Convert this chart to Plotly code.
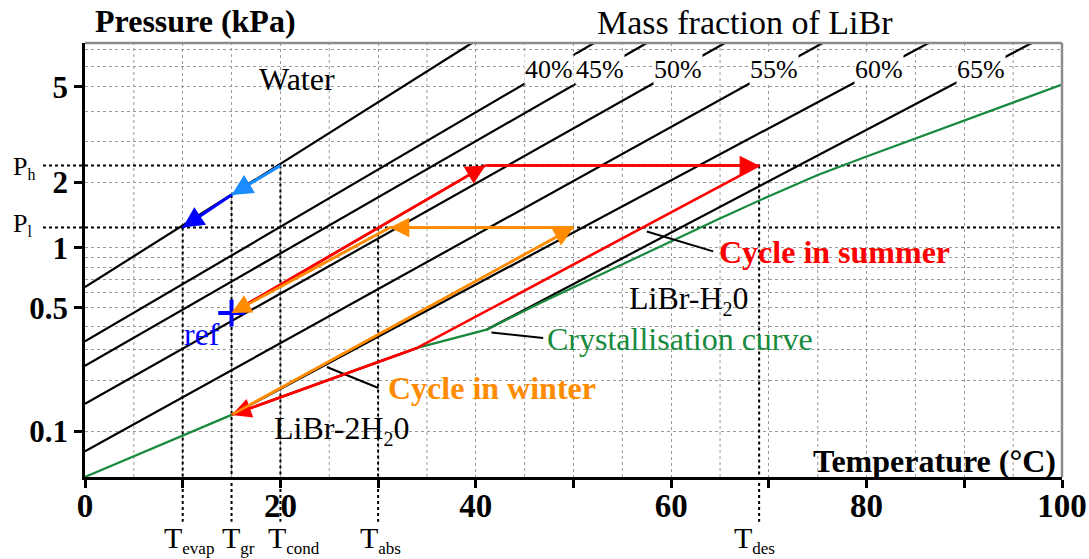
import numpy as np
import plotly.graph_objects as go

# ---------------- data (temperature in degC, pressure in kPa) ----------------
water_T = [0.0, 39.6]
water_P = [0.640, 7.375]

conc_labels = ["40%", "45%", "50%", "55%", "60%", "65%"]
iso_T0 = [0.0, 0.0, 0.0, 0.0, 15.0, 41.1]
iso_P0 = [0.332, 0.2436, 0.1469, 0.0749, 0.126, 0.384]
iso_T1 = [52.1, 57.5, 65.5, 75.5, 86.35, 96.9]
iso_P1 = [7.375, 7.375, 7.375, 7.375, 7.375, 7.375]

cryst_T = [0, 15, 34, 37.4, 41.1, 46.6, 55, 64.7, 70, 75, 80, 90, 100]
cryst_P = [0.0511, 0.126, 0.306, 0.340, 0.384, 0.530, 0.830, 1.355, 1.735, 2.152, 2.591, 3.665, 5.109]

P_h, P_l = 2.37, 1.245
T_evap, T_gr, T_cond, T_abs, T_des = 10, 15, 20, 30, 69
ref_T, ref_P = 15, 0.470

summer_T = [15, 41, 69, 34, 15]
summer_P = [0.470, 2.37, 2.37, 0.306, 0.126]
summer_heads = [1, 2, 4]           # indices of points that carry an arrow head

winter_T = [15, 50, 31.2, 15]
winter_P = [0.126, 1.245, 1.245, 0.470]
winter_heads = [1, 2, 3]

blue_T = [20, 15, 10]
blue_P = [2.37, 1.757, 1.245]

# pointer lines from labels to curves
ptr_summer_T, ptr_summer_P = [57.5, 64.3], [1.194, 0.960]
ptr_cryst_T, ptr_cryst_P = [41.6, 46.9], [0.371, 0.346]
ptr_winter_T, ptr_winter_P = [24.75, 30.04], [0.2395, 0.1816]

tick_P = [0.1, 0.5, 1, 2, 5]
tick_text = ["0.1", "0.5", "1", "2", "5"]
grid_P = [0.1, 0.2, 0.3, 0.4, 0.5, 0.6, 0.7, 0.8, 0.9, 1, 2, 3, 4, 5, 6, 7]
x_major = [0, 20, 40, 60, 80, 100]
x_major_text = ["0", "20", "40", "60", "80", "100"]
x_fine_grid = [5, 15, 25, 35, 45, 55, 65, 75, 85, 95]

# ---------------- pressure scale: saturation temperature of water ----------------
def ts(p):
    L = np.log(np.asarray(p, dtype=float) / 0.61094)
    return 243.04 * L / (17.625 - L)

YMIN, YMAX = -30, 40
FONT = "Liberation Serif, Times New Roman, serif"
RED, ORANGE, GREEN = "#ff0000", "#ff8c00", "#178a3e"
LBLUE, DBLUE = "#1a8cff", "#0000ff"

fig = go.Figure()

# water + isosteres
fig.add_trace(go.Scatter(x=water_T, y=ts(water_P), mode="lines",
                         line=dict(color="black", width=2.2), hoverinfo="skip"))
for i in range(len(conc_labels)):
    fig.add_trace(go.Scatter(x=[iso_T0[i], iso_T1[i]], y=ts([iso_P0[i], iso_P1[i]]),
                             mode="lines", line=dict(color="black", width=2.2), hoverinfo="skip"))

# crystallisation curve
fig.add_trace(go.Scatter(x=cryst_T, y=ts(cryst_P), mode="lines",
                         line=dict(color=GREEN, width=2.2), hoverinfo="skip"))

# cycles
fig.add_trace(go.Scatter(x=summer_T, y=ts(summer_P), mode="lines",
                         line=dict(color=RED, width=2.6), hoverinfo="skip"))
fig.add_trace(go.Scatter(x=winter_T, y=ts(winter_P), mode="lines",
                         line=dict(color=ORANGE, width=2.6), hoverinfo="skip"))
fig.add_trace(go.Scatter(x=blue_T[:2], y=ts(blue_P[:2]), mode="lines",
                         line=dict(color=LBLUE, width=2.8), hoverinfo="skip"))
fig.add_trace(go.Scatter(x=blue_T[1:], y=ts(blue_P[1:]), mode="lines",
                         line=dict(color=DBLUE, width=2.8), hoverinfo="skip"))

# pointers
for tt, pp in [(ptr_summer_T, ptr_summer_P), (ptr_cryst_T, ptr_cryst_P), (ptr_winter_T, ptr_winter_P)]:
    fig.add_trace(go.Scatter(x=tt, y=ts(pp), mode="lines",
                             line=dict(color="black", width=2), hoverinfo="skip"))

# reference point
fig.add_trace(go.Scatter(x=[ref_T], y=ts([ref_P]), mode="markers",
                         marker=dict(symbol="cross-thin", size=19,
                                     line=dict(color=DBLUE, width=4)), hoverinfo="skip"))

annotations = []

def arrow(t0, p0, t1, p1, color, width=2.6):
    annotations.append(dict(x=t1, y=float(ts(p1)), ax=t0, ay=float(ts(p0)),
                            xref="x", yref="y", axref="x", ayref="y", text="",
                            showarrow=True, arrowhead=2, arrowsize=1.5,
                            arrowwidth=width, arrowcolor=color, standoff=0))

for h in summer_heads:
    arrow(summer_T[h - 1], summer_P[h - 1], summer_T[h], summer_P[h], RED)
for h in winter_heads:
    arrow(winter_T[h - 1], winter_P[h - 1], winter_T[h], winter_P[h], ORANGE)
arrow(blue_T[0], blue_P[0], blue_T[1], blue_P[1], LBLUE, 2.8)
arrow(blue_T[1], blue_P[1], blue_T[2], blue_P[2], DBLUE, 2.8)

# concentration labels placed on their lines
TS_LAB = 35.7
for i, lab in enumerate(conc_labels):
    y0, y1 = float(ts(iso_P0[i])), float(ts(iso_P1[i]))
    tl = float(np.interp(TS_LAB, [y0, y1], [iso_T0[i], iso_T1[i]]))
    annotations.append(dict(x=tl, y=TS_LAB, xref="x", yref="y", text=lab, showarrow=False,
                            font=dict(family=FONT, size=26, color="black"),
                            bgcolor="white", borderpad=0, xanchor="center", yanchor="middle"))

# text labels (positions in plot pixels)
def px(xp):
    return (xp - 85) / 977.0

def py(yp):
    return (477.0 - yp) / 434.0

def label(text, x, y, size=32, color="black", xanchor="left"):
    annotations.append(dict(x=px(x), y=py(y), xref="paper", yref="paper", text=text,
                            showarrow=False, font=dict(family=FONT, size=size, color=color),
                            xanchor=xanchor, yanchor="middle"))

SUB = "<sub><span style='font-size:%dpx'>%s</span></sub>"

label("<b>Pressure (kPa)</b>", 93, 21)
label("Mass fraction of LiBr", 745, 22, size=34, xanchor="center")
label("Water", 257, 79)
label("<b>Cycle in summer</b>", 717, 252, color=RED)
label("LiBr-H" + SUB % (20, "2") + "0", 627, 300)
label("Crystallisation curve", 545, 339, color=GREEN)
label("<b>Cycle in winter</b>", 386, 388, color=ORANGE)
label("LiBr-2H" + SUB % (20, "2") + "0", 272, 430)
label("ref", 182, 334, color=DBLUE)
label("<b>Temperature (°C)</b>", 1058, 461, xanchor="right")
label("P" + SUB % (16, "h"), 11, 167, size=26)
label("P" + SUB % (16, "l"), 11, 225, size=26)

T_names = [("evap", T_evap, -21), ("gr", T_gr, -12),
           ("cond", T_cond, -14), ("abs", T_abs, -20),
           ("des", T_des, -27)]
for sub, tv, sh in T_names:
    annotations.append(dict(x=tv, y=py(539), xref="x", yref="paper",
                            text="T" + SUB % (17, sub), showarrow=False,
                            font=dict(family=FONT, size=30, color="black"),
                            xanchor="left", yanchor="middle", xshift=sh))

shapes = []
for gx in x_fine_grid:
    shapes.append(dict(type="line", xref="x", yref="paper", x0=gx, x1=gx, y0=0, y1=1,
                       line=dict(color="#9a9a9a", width=1, dash="dot"), layer="below"))
dot = dict(color="black", width=2, dash="dot")
for pv in [P_h, P_l]:
    shapes.append(dict(type="line", xref="paper", yref="y", x0=-0.043, x1=1,
                       y0=float(ts(pv)), y1=float(ts(pv)), line=dot, layer="between"))
for tv, pv in [(T_evap, P_l), (T_gr, blue_P[1]), (T_cond, P_h), (T_abs, P_l), (T_des, P_h)]:
    shapes.append(dict(type="line", xref="x", yref="y", x0=tv, x1=tv,
                       y0=float(ts(pv)), y1=YMIN, line=dot, layer="between"))
    shapes.append(dict(type="line", xref="x", yref="paper", x0=tv, x1=tv,
                       y0=0, y1=-0.103, line=dot, layer="above"))
# grey top / right frame
shapes.append(dict(type="line", xref="paper", yref="paper", x0=0, x1=1, y0=1, y1=1,
                   line=dict(color="#8c8c8c", width=2.5)))
shapes.append(dict(type="line", xref="paper", yref="paper", x0=1, x1=1, y0=0, y1=1,
                   line=dict(color="#8c8c8c", width=2.5)))

grid = dict(gridcolor="#9a9a9a", griddash="dot", gridwidth=1)

fig.update_layout(
    width=1089, height=559,
    margin=dict(l=85, r=27, t=43, b=82, autoexpand=False),
    plot_bgcolor="white", paper_bgcolor="white",
    showlegend=False,
    annotations=annotations,
    shapes=shapes,
    xaxis=dict(range=[0, 100], tickmode="array", tickvals=x_major, ticktext=x_major_text,
               automargin=False,
               ticks="outside", ticklen=8, tickwidth=2.5, tickcolor="black",
               ticklabelstandoff=-10,
               showline=True, linecolor="black", linewidth=2.5,
               showgrid=True, zeroline=False,
               minor=dict(dtick=10, tick0=0, showgrid=True, ticks="outside", ticklen=8,
                          tickwidth=2.5, tickcolor="black", **grid),
               tickfont=dict(family=FONT, size=33, color="black", weight="bold"),
               **grid),
    yaxis=dict(range=[YMIN, YMAX], tickmode="array", tickvals=list(ts(tick_P)), ticktext=tick_text,
               automargin=False,
               ticks="outside", ticklen=8, tickwidth=2.5, tickcolor="black",
               showline=True, linecolor="black", linewidth=2.5,
               showgrid=True, zeroline=False,
               minor=dict(tickmode="array", tickvals=list(ts(grid_P)), showgrid=True, ticks="", **grid),
               tickfont=dict(family=FONT, size=31, color="black", weight="bold"),
               **grid),
)

fig.write_html("out.html", config={"displayModeBar": False},
               post_script="document.body.style.margin='0';document.body.style.overflow='hidden';")
